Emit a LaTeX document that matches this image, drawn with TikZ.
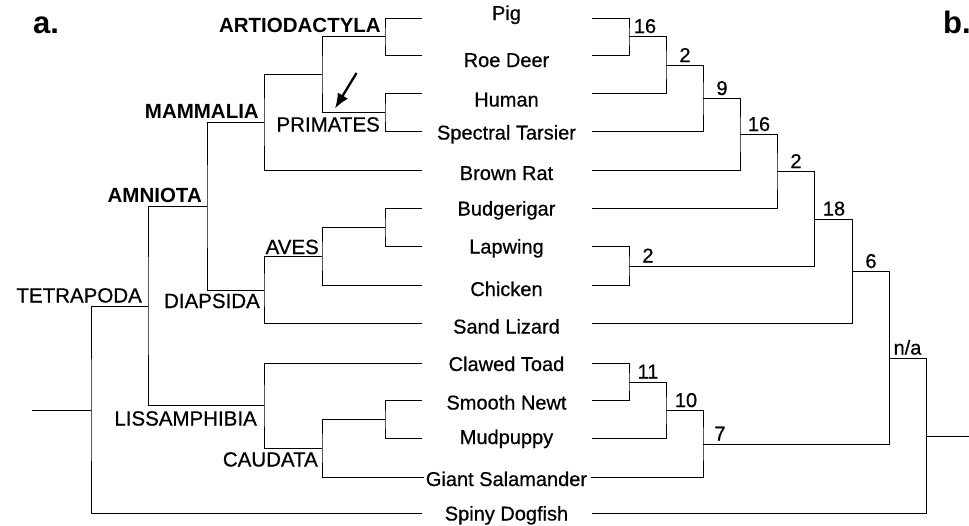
\documentclass[tikz,border=0pt]{standalone}
\usepackage{fontspec}
\setmainfont{Liberation Sans}[UprightFeatures={FakeBold=0.6}]
\usetikzlibrary{arrows.meta,calc}
\tikzset{
  branch/.style={line width=1pt},
  taxon/.style={font=\fontsize{20}{24}\selectfont, inner sep=0pt, anchor=base},
  clade/.style={font=\fontsize{20.5}{24}\selectfont, inner sep=0pt, anchor=base east},
  majorclade/.style={clade, font=\fontsize{20.5}{24}\selectfont\bfseries},
  support/.style={font=\fontsize{20}{24}\selectfont, inner sep=0pt, anchor=base},
  panel/.style={font=\fontsize{31}{36}\selectfont\bfseries, inner sep=0pt, anchor=base west},
  pointer/.style={-{Latex[length=15pt, width=12pt]}, line width=2.3pt}
}

\begin{document}
\begin{tikzpicture}[x=1pt, y=-1pt]
  \useasboundingbox (0,0) rectangle (969,525);
  % taxa in the middle, with the tip ends of both trees
  \node[taxon] (pig) at (506.5,20) {Pig};
  \coordinate (pig-l) at (422,18); \coordinate (pig-r) at (592,18);
  \node[taxon] (roedeer) at (506.5,67) {Roe Deer};
  \coordinate (roedeer-l) at (422,55); \coordinate (roedeer-r) at (592,55);
  \node[taxon] (human) at (506.5,106.5) {Human};
  \coordinate (human-l) at (422,93.5); \coordinate (human-r) at (592,93.5);
  \node[taxon] (tarsier) at (506.5,139.5) {Spectral Tarsier};
  \coordinate (tarsier-l) at (422,131.5); \coordinate (tarsier-r) at (592,131.5);
  \node[taxon] (rat) at (506.5,180) {Brown Rat};
  \coordinate (rat-l) at (422,170); \coordinate (rat-r) at (592,170);
  \node[taxon] (budgie) at (506.5,215.5) {Budgerigar};
  \coordinate (budgie-l) at (422,208.5); \coordinate (budgie-r) at (592,208.5);
  \node[taxon] (lapwing) at (506.5,253.5) {Lapwing};
  \coordinate (lapwing-l) at (422,246.5); \coordinate (lapwing-r) at (592,246.5);
  \node[taxon] (chicken) at (506.5,296) {Chicken};
  \coordinate (chicken-l) at (422,285); \coordinate (chicken-r) at (592,285);
  \node[taxon] (lizard) at (506.5,333.5) {Sand Lizard};
  \coordinate (lizard-l) at (422,323.5); \coordinate (lizard-r) at (592,323.5);
  \node[taxon] (toad) at (506.5,371) {Clawed Toad};
  \coordinate (toad-l) at (422,363); \coordinate (toad-r) at (592,363);
  \node[taxon] (newt) at (506.5,409.5) {Smooth Newt};
  \coordinate (newt-l) at (422,400.5); \coordinate (newt-r) at (592,400.5);
  \node[taxon] (mudpuppy) at (506.5,444) {Mudpuppy};
  \coordinate (mudpuppy-l) at (422,438.5); \coordinate (mudpuppy-r) at (592,438.5);
  \node[taxon] (salamander) at (506.5,486) {Giant Salamander};
  \coordinate (salamander-l) at (424,477); \coordinate (salamander-r) at (591,477);
  \node[taxon] (dogfish) at (506.5,520.5) {Spiny Dogfish};
  \coordinate (dogfish-l) at (422,513.5); \coordinate (dogfish-r) at (592,513.5);

  % a. taxonomic tree
  \coordinate (artio) at (385,36.5);
  \coordinate (prim) at (385,112.5);
  \coordinate (artioprim) at (322,74.5);
  \coordinate (mamm) at (264,122);
  \coordinate (budlap) at (385,227.5);
  \coordinate (aves) at (322,256);
  \coordinate (diap) at (264,290);
  \coordinate (amni) at (207,206);
  \coordinate (newtmud) at (385,419.5);
  \coordinate (caud) at (322,448);
  \coordinate (liss) at (264,405.5);
  \coordinate (tetra) at (148,306);
  \coordinate (lroot) at (91,410);
  \coordinate (lstub) at (32,410);
  \draw[branch] (pig-l) -| (artio) |- (roedeer-l);
  \draw[branch] (human-l) -| (prim) |- (tarsier-l);
  \draw[branch] (artio) -| (artioprim) |- (prim);
  \draw[branch] (artioprim) -| (mamm) |- (rat-l);
  \draw[branch] (budgie-l) -| (budlap) |- (lapwing-l);
  \draw[branch] (budlap) -| (aves) |- (chicken-l);
  \draw[branch] (aves) -| (diap) |- (lizard-l);
  \draw[branch] (mamm) -| (amni) |- (diap);
  \draw[branch] (newt-l) -| (newtmud) |- (mudpuppy-l);
  \draw[branch] (newtmud) -| (caud) |- (salamander-l);
  \draw[branch] (toad-l) -| (liss) |- (caud);
  \draw[branch] (amni) -| (tetra) |- (liss);
  \draw[branch] (tetra) -| (lroot) |- (dogfish-l);
  \draw[branch] (lstub) -- (lroot);
  \node[majorclade] (l-artio) at (381,32) {ARTIODACTYLA};
  \node[clade] (l-prim) at (380,131.5) {PRIMATES};
  \node[majorclade] (l-mamm) at (259,118) {MAMMALIA};
  \node[majorclade] (l-amni) at (202,202) {AMNIOTA};
  \node[clade] (l-aves) at (319,254) {AVES};
  \node[clade] (l-diap) at (260,308) {DIAPSIDA};
  \node[clade] (l-tetra) at (142,302.5) {TETRAPODA};
  \node[clade] (l-liss) at (257,425.5) {LISSAMPHIBIA};
  \node[clade] (l-caud) at (318,466.5) {CAUDATA};
  \coordinate (arrtail) at (356.5,73);
  \coordinate (arrtip) at (335,108.5);
  \draw[pointer] (arrtail) -- (arrtip);

  % b. inferred tree with support values
  \coordinate (rpd) at (629,36.5);
  \coordinate (rpdh) at (666,65.5);
  \coordinate (rpdht) at (703,98.5);
  \coordinate (rmamm) at (740,134.5);
  \coordinate (rmb) at (777,171.5);
  \coordinate (rlc) at (629,266);
  \coordinate (rbird) at (814,219);
  \coordinate (rdia) at (852,271.5);
  \coordinate (rtn) at (629,382);
  \coordinate (rtnm) at (666,410.5);
  \coordinate (ramph) at (703,444);
  \coordinate (rtetra) at (889,358);
  \coordinate (rroot) at (926,436);
  \coordinate (rstub) at (969,436);
  \draw[branch] (pig-r) -| (rpd) |- (roedeer-r);
  \draw[branch] (rpd) -| (rpdh) |- (human-r);
  \draw[branch] (rpdh) -| (rpdht) |- (tarsier-r);
  \draw[branch] (rpdht) -| (rmamm) |- (rat-r);
  \draw[branch] (rmamm) -| (rmb) |- (budgie-r);
  \draw[branch] (lapwing-r) -| (rlc) |- (chicken-r);
  \draw[branch] (rmb) -| (rbird) |- (rlc);
  \draw[branch] (rbird) -| (rdia) |- (lizard-r);
  \draw[branch] (toad-r) -| (rtn) |- (newt-r);
  \draw[branch] (rtn) -| (rtnm) |- (mudpuppy-r);
  \draw[branch] (rtnm) -| (ramph) |- (salamander-r);
  \draw[branch] (rdia) -| (rtetra) |- (ramph);
  \draw[branch] (rtetra) -| (rroot) |- (dogfish-r);
  \draw[branch] (rroot) -- (rstub);
  \node[support] (s-rpd) at ($(rpd)+(16,-3.5)$) {16};
  \node[support] (s-rpdh) at ($(rpdh)+(19,-3.5)$) {2};
  \node[support] (s-rpdht) at ($(rpdht)+(19,-3.5)$) {9};
  \node[support] (s-rmamm) at ($(rmamm)+(19,-3.5)$) {16};
  \node[support] (s-rmb) at ($(rmb)+(19,-3.5)$) {2};
  \node[support] (s-rlc) at ($(rlc)+(19,-3.5)$) {2};
  \node[support] (s-rbird) at ($(rbird)+(20,-3.5)$) {18};
  \node[support] (s-rdia) at ($(rdia)+(19,-3.5)$) {6};
  \node[support] (s-rtn) at ($(rtn)+(19,-3.5)$) {11};
  \node[support] (s-rtnm) at ($(rtnm)+(20,-3.5)$) {10};
  \node[support] (s-ramph) at ($(ramph)+(17,-3.5)$) {7};
  \node[support] (s-rtetra) at ($(rtetra)+(18.5,-3.5)$) {n/a};

  \node[panel] (pa) at (33,33) {a.};
  \node[panel] (pb) at (943,33) {b.};
\end{tikzpicture}
\end{document}
